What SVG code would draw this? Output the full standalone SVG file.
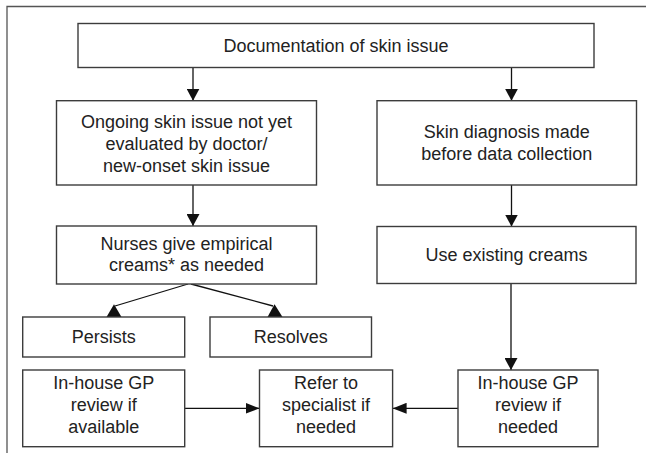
<svg xmlns="http://www.w3.org/2000/svg" width="646" height="453" viewBox="0 0 646 453">
<style>
.box{fill:#fff;stroke:#3c3c3c;stroke-width:1.4}
.t{font-family:"Liberation Sans",Arial,sans-serif;font-size:18px;fill:#222;text-anchor:middle}
.c{stroke:#111;stroke-width:1.3;fill:none}
.frame{stroke:#555;stroke-width:1.3;fill:none}
.ah{fill:#111}
</style>
<defs>
<marker id="arr" markerUnits="userSpaceOnUse" viewBox="0 0 12 13" refX="12" refY="6.5" markerWidth="12" markerHeight="13" orient="auto">
<path d="M0,0 L12,6.5 L0,13 z" fill="#111"/>
</marker>
<marker id="arrH" markerUnits="userSpaceOnUse" viewBox="0 0 14 11" refX="14" refY="5.5" markerWidth="14" markerHeight="11" orient="auto">
<path d="M0,0 L14,5.5 L0,11 z" fill="#111"/>
</marker>
</defs>
<path class="frame" d="M7,453 L7,6.5 L646,6.5"/>
<g id="connectors">
<line class="c" x1="193" y1="67.5" x2="193" y2="100.7" marker-end="url(#arr)"/>
<line class="c" x1="511.5" y1="67.5" x2="511.5" y2="100.7" marker-end="url(#arr)"/>
<line class="c" x1="193" y1="185" x2="193" y2="226" marker-end="url(#arr)"/>
<line class="c" x1="511.5" y1="185" x2="511.5" y2="226.5" marker-end="url(#arr)"/>
<line class="c" x1="511" y1="283.5" x2="511" y2="370" marker-end="url(#arr)"/>
<line class="c" x1="184.7" y1="408.3" x2="259.5" y2="408.3" marker-end="url(#arrH)"/>
<line class="c" x1="458" y1="408.3" x2="392.6" y2="408.3" marker-end="url(#arrH)"/>
<line class="c" x1="188" y1="284" x2="115" y2="306"/>
<polygon class="ah" points="114,304.3 121.5,317 106.5,317"/>
<line class="c" x1="191" y1="284" x2="273" y2="306"/>
<polygon class="ah" points="274.5,304.3 282.5,317 267.5,317"/>
</g>
<g id="n_doc">
<rect class="box" x="78" y="23.5" width="516" height="44"/>
<text class="t" x="336" y="52">Documentation of skin issue</text>
</g>
<g id="n_ongoing">
<rect class="box" x="56.5" y="100.7" width="260" height="84.3"/>
<text class="t" x="186.5" y="127.5">Ongoing skin issue not yet</text>
<text class="t" x="186.5" y="149.5">evaluated by doctor/</text>
<text class="t" x="186.5" y="171.5">new-onset skin issue</text>
</g>
<g id="n_diagnosis">
<rect class="box" x="377" y="100.7" width="259.5" height="84.3"/>
<text class="t" x="506.7" y="138.3">Skin diagnosis made</text>
<text class="t" x="506.7" y="159.8">before data collection</text>
</g>
<g id="n_nurses">
<rect class="box" x="56.5" y="226" width="260" height="58"/>
<text class="t" x="186.5" y="250">Nurses give empirical</text>
<text class="t" x="186.5" y="271">creams* as needed</text>
</g>
<g id="n_existing">
<rect class="box" x="377" y="226.5" width="259" height="57"/>
<text class="t" x="506.5" y="261">Use existing creams</text>
</g>
<g id="n_persists">
<rect class="box" x="22.7" y="317" width="162" height="40"/>
<text class="t" x="103.7" y="343">Persists</text>
</g>
<g id="n_resolves">
<rect class="box" x="210" y="317" width="161.5" height="40"/>
<text class="t" x="290.7" y="343">Resolves</text>
</g>
<g id="n_gp_left">
<rect class="box" x="22.7" y="370" width="162" height="76.7"/>
<text class="t" x="103.7" y="389">In-house GP</text>
<text class="t" x="103.7" y="411">review if</text>
<text class="t" x="103.7" y="433">available</text>
</g>
<g id="n_refer">
<rect class="box" x="259.5" y="370" width="133.1" height="76.7"/>
<text class="t" x="326" y="389">Refer to</text>
<text class="t" x="326" y="411">specialist if</text>
<text class="t" x="326" y="433">needed</text>
</g>
<g id="n_gp_right">
<rect class="box" x="458" y="370" width="140" height="76.7"/>
<text class="t" x="528" y="389">In-house GP</text>
<text class="t" x="528" y="411">review if</text>
<text class="t" x="528" y="433">needed</text>
</g>
</svg>
